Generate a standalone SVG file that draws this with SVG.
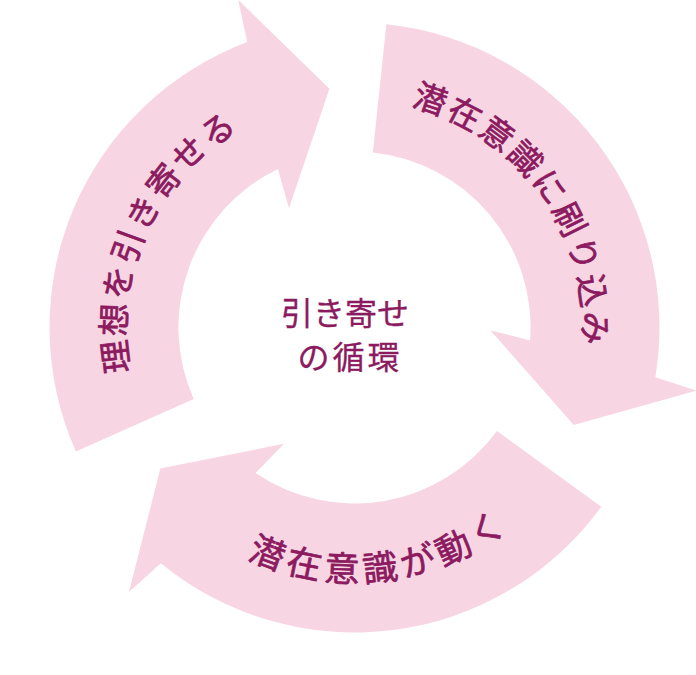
<svg xmlns="http://www.w3.org/2000/svg" xmlns:xlink="http://www.w3.org/1999/xlink" width="696" height="675" viewBox="0 0 696 675">
  <style>
    .arrow { fill: #F8D5E3; stroke: none; }
    .lbl { fill: #8B1A5F; font-family: "Noto Sans CJK JP", "Noto Sans CJK SC", sans-serif; }
    .arcTxt { stroke: #8B1A5F; stroke-width: 0.7px; stroke-linejoin: round; }
    .arc33 { font-size: 33px; }
    .ctr { font-size: 32px; text-anchor: middle; stroke: #8B1A5F; stroke-width: 0.3px; }
  </style>
  <defs>
    <path id="arrowShape" d="M75.9,451.6 A305,305 0 0 1 247.2,42.0 L238.2,-0.1 L329.4,88.8 L289.0,208.3 L277.9,169.0 A176,176 0 0 0 193.7,399.1 Z"/>
    <path id="pathLeft" d="M139.78,405.65 A228.5,228.5 0 0 1 276.35,112.78" fill="none"/>
    <path id="pathRight" d="M394.18,102.47 A228.5,228.5 0 0 1 579.53,367.18" fill="none"/>
    <path id="pathBottom" d="M227.35,547.73 A254.3,254.3 0 0 0 549.30,490.96" fill="none"/>
  </defs>
  <rect width="696" height="675" fill="#FFFFFF"/>
  <g id="arrows">
    <use id="arrow-left" class="arrow" xlink:href="#arrowShape" href="#arrowShape"/>
    <use id="arrow-right" class="arrow" xlink:href="#arrowShape" href="#arrowShape" transform="rotate(120 354.5 327.5)"/>
    <use id="arrow-bottom" class="arrow" xlink:href="#arrowShape" href="#arrowShape" transform="rotate(240 354.5 327.5)"/>
  </g>
  <g id="node-left">
    <text class="lbl arcTxt arc33" letter-spacing="2.45"><textPath xlink:href="#pathLeft" href="#pathLeft" startOffset="35.3">理想を引き寄せる</textPath></text>
  </g>
  <g id="node-right">
    <text class="lbl arcTxt arc33" letter-spacing="2.73"><textPath xlink:href="#pathRight" href="#pathRight" startOffset="17">潜在意識に刷り込み</textPath></text>
  </g>
  <g id="node-bottom">
    <text class="lbl arcTxt" font-size="35" letter-spacing="5.17"><textPath xlink:href="#pathBottom" href="#pathBottom" startOffset="22.2">潜在意識が動く</textPath></text>
  </g>
  <g id="node-center">
    <text class="lbl ctr" x="345" y="325">引き寄せ</text>
    <text class="lbl ctr" x="350" y="369" letter-spacing="3">の循環</text>
  </g>
</svg>
